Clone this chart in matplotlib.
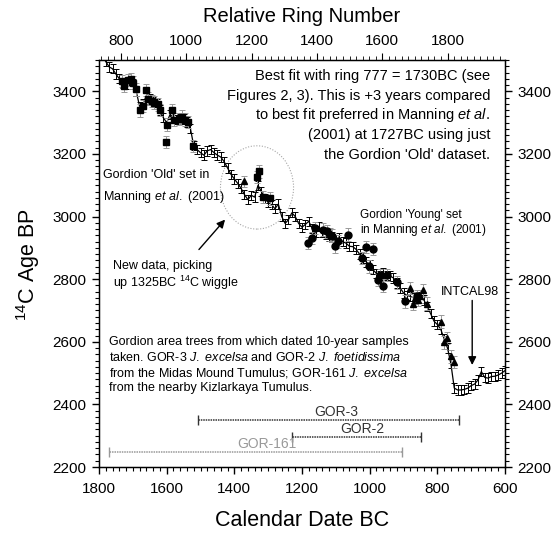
import numpy as np
import matplotlib
matplotlib.use("Agg")
import matplotlib.pyplot as plt
from matplotlib.patches import Ellipse
from matplotlib.ticker import MultipleLocator

plt.rcParams['font.family'] = ['Liberation Sans', 'DejaVu Sans']
plt.rcParams['mathtext.fontset'] = 'custom'
plt.rcParams['mathtext.rm'] = 'Liberation Sans'
plt.rcParams['mathtext.it'] = 'Liberation Sans:italic'

# INTCAL98 curve (calendar year BC, 14C age BP)
cal_years = [1790, 1780, 1770, 1760, 1750, 1740, 1730, 1720, 1710, 1700,
             1690, 1680, 1670, 1660, 1650, 1640, 1630, 1620, 1610, 1600,
             1590, 1580, 1570, 1560, 1550, 1540, 1530, 1520, 1510, 1500,
             1490, 1480, 1470, 1460, 1450, 1440, 1430, 1420, 1410, 1400,
             1390, 1380, 1370, 1360, 1350, 1340, 1330, 1320, 1310, 1300,
             1290, 1280, 1270, 1260, 1250, 1240, 1230, 1220, 1210, 1200,
             1190, 1180, 1170, 1160, 1150, 1140, 1130, 1120, 1110, 1100,
             1090, 1080, 1070, 1060, 1050, 1040, 1030, 1020, 1010, 1000,
             990, 980, 970, 960, 950, 940, 930, 920, 910, 900,
             890, 880, 870, 860, 850, 840, 830, 820, 810, 800,
             790, 780, 770, 760, 750, 740, 730, 720, 710, 700,
             690, 680, 670, 660, 650, 640, 630, 620, 610, 600]
intcal = [3515, 3495, 3478, 3472, 3455, 3440, 3425, 3422, 3432, 3424,
          3400, 3352, 3360, 3386, 3375, 3366, 3360, 3340, 3316, 3300,
          3326, 3316, 3310, 3314, 3312, 3302, 3282, 3226, 3214, 3204,
          3196, 3210, 3214, 3204, 3196, 3190, 3175, 3155, 3135, 3120,
          3106, 3090, 3070, 3054, 3068, 3062, 3100, 3080, 3058, 3045,
          3038, 3025, 3040, 3000, 2978, 2990, 3012, 3000, 2978, 2966,
          2975, 2985, 2962, 2950, 2968, 2950, 2942, 2938, 2935, 2925,
          2932, 2920, 2915, 2905, 2904, 2895, 2880, 2868, 2855, 2845,
          2830, 2818, 2812, 2820, 2812, 2810, 2804, 2788, 2772, 2756,
          2748, 2745, 2740, 2745, 2740, 2734, 2713, 2690, 2666, 2655,
          2640, 2610, 2580, 2530, 2452, 2446, 2446, 2448, 2452, 2460,
          2465, 2478, 2505, 2486, 2484, 2489, 2490, 2494, 2500, 2508]

# Gordion 'Old' set (squares)
old_years = [1733, 1725, 1713, 1705, 1699, 1691, 1679, 1671, 1661, 1654,
             1644, 1636, 1627, 1620, 1602, 1598, 1585, 1577, 1565, 1556,
             1546, 1536, 1521]
old_c14 = [3433, 3417, 3436, 3438, 3428, 3406, 3339, 3353, 3404, 3377,
           3369, 3364, 3358, 3340, 3238, 3294, 3339, 3310, 3312, 3319,
           3310, 3302, 3225]

# new data around the 1325BC wiggle
new_sq_years = [1334, 1326, 1314, 1296]
new_sq_c14 = [3127, 3144, 3063, 3058]
new_tri_years = [1372]
new_tri_c14 = [3113]

# Gordion 'Young' set (circles and triangles)
young_years = [1181, 1171, 1161, 1137, 1127, 1117, 1112, 1102, 1093, 1063,
               1023, 1011, 991, 1001, 974, 969, 960, 950, 920, 897, 861]
young_c14 = [2916, 2932, 2964, 2958, 2953, 2942, 2939, 2905, 2921, 2942,
             2868, 2902, 2897, 2841, 2798, 2814, 2779, 2814, 2790, 2729, 2745]
tri_years = [881, 871, 866, 856, 851, 841, 831, 790, 781, 771, 759, 752]
tri_c14 = [2772, 2722, 2740, 2734, 2745, 2765, 2722, 2664, 2598, 2612, 2553, 2535]

# tree ring ranges (start BC, end BC, level)
gor_names = ['GOR-3', 'GOR-2', 'GOR-161']
gor_start = [1507, 1230, 1770]
gor_end = [736, 848, 904]
gor_level = [2350, 2296, 2248]
gor_label_x = [1098, 1022, 1303]
gor_colors = ['0.2', '0.2', '0.6']

ring_lim = (733, 1976)

fig = plt.figure(figsize=(5.54, 5.33), dpi=100)
ax = fig.add_axes([0.1787, 0.1238, 0.7329, 0.7636])

ax.errorbar(cal_years, intcal, yerr=15, color='black', lw=0.9, elinewidth=0.7,
            capsize=2.5, capthick=0.7, zorder=3)

pts = dict(color='black', ecolor='0.6', elinewidth=0.7, capsize=2.5, capthick=0.7, zorder=4)
ax.errorbar(old_years, old_c14, yerr=20, fmt='s', ms=4.3, **pts)
ax.errorbar(new_sq_years, new_sq_c14, yerr=20, fmt='s', ms=4.3, **pts)
ax.errorbar(new_tri_years, new_tri_c14, yerr=18, fmt='^', ms=5, **pts)
ax.errorbar(young_years, young_c14, yerr=20, fmt='o', ms=5, **pts)
ax.errorbar(tri_years, tri_c14, yerr=20, fmt='^', ms=5, **pts)

for name, s, e, lev, lx, col in zip(gor_names, gor_start, gor_end, gor_level,
                                    gor_label_x, gor_colors):
    eb = ax.errorbar([(s + e) / 2], [lev], xerr=[(s - e) / 2], fmt='none', ecolor=col,
                     elinewidth=1.1, capsize=3.5, capthick=1.0)
    eb[2][0].set_linestyle((0, (1, 0.6)))
    ax.text(lx, lev + 27, name, fontsize=10, color=col, ha='center', va='center')

ax.add_patch(Ellipse((1333, 3093), 216, 266, fill=False, ec='0.65',
                     ls=(0, (1, 1.5)), lw=0.8))

ax.set_xlim(1800, 600)
ax.set_ylim(2200, 3500)
ax.xaxis.set_major_locator(MultipleLocator(200))
ax.xaxis.set_minor_locator(MultipleLocator(20))
ax.yaxis.set_major_locator(MultipleLocator(200))
ax.yaxis.set_minor_locator(MultipleLocator(20))
ax.tick_params(axis='both', which='major', labelsize=11, length=5, width=1)
ax.tick_params(axis='both', which='minor', length=3, width=0.8)
ax.tick_params(axis='x', direction='out', pad=6)
ax.tick_params(axis='y', which='both', direction='out', left=True, right=True,
               labelright=True, pad=4)
for sp in ax.spines.values():
    sp.set_linewidth(1.0)

ax2 = ax.twiny()
ax2.set_xlim(*ring_lim)
ax2.xaxis.set_major_locator(MultipleLocator(200))
ax2.xaxis.set_minor_locator(MultipleLocator(20))
ax2.tick_params(axis='x', which='major', labelsize=11, length=5, direction='out', pad=4)
ax2.tick_params(axis='x', which='minor', length=3, direction='out')

fig.text(302 / 554, 1 - 17 / 533, 'Relative Ring Number', fontsize=14.5,
         ha='center', va='center')
fig.text(302 / 554, 1 - 520 / 533, 'Calendar Date BC', fontsize=15.5,
         ha='center', va='center')
fig.text(28 / 554, 1 - 265 / 533, '$^{14}$C Age BP', fontsize=15.5,
         rotation=90, ha='center', va='center')

best_lines = ['Best fit with ring 777 = 1730BC (see',
              'Figures 2, 3). This is +3 years compared',
              r'to best fit preferred in Manning $\mathit{et\ al.}$',
              '(2001) at 1727BC using just',
              "the Gordion 'Old' dataset."]
best_y = [3448, 3384, 3323, 3259, 3198]
for t, yv in zip(best_lines, best_y):
    ax.text(644, yv, t, fontsize=10.5, ha='right', va='center')

ax.text(1788, 3134, "Gordion 'Old' set in", fontsize=9, ha='left', va='center')
ax.text(1788, 3061, r'Manning $\mathit{et\ al.}$ (2001)', fontsize=9, ha='left', va='center')
ax.text(1028, 3006, "Gordion 'Young' set", fontsize=8.5, ha='left', va='center')
ax.text(1028, 2958, r'in Manning $\mathit{et\ al.}$ (2001)', fontsize=8.5, ha='left', va='center')
ax.text(1759, 2843, 'New data, picking', fontsize=9, ha='left', va='center')
ax.text(1759, 2789, 'up 1325BC $^{14}$C wiggle', fontsize=9, ha='left', va='center')

tree_lines = ['Gordion area trees from which dated 10-year samples',
              r'taken. GOR-3 $\mathit{J.\ excelsa}$ and GOR-2 $\mathit{J.\ foetidissima}$',
              r'from the Midas Mound Tumulus; GOR-161 $\mathit{J.\ excelsa}$',
              'from the nearby Kizlarkaya Tumulus.']
tree_y = [2600, 2549, 2501, 2453]
for t, yv in zip(tree_lines, tree_y):
    ax.text(1770, yv, t, fontsize=9, ha='left', va='center')

ax.annotate('', xy=(1422, 2997), xytext=(1510, 2888),
            arrowprops=dict(arrowstyle='-|>', color='black', lw=1.0, mutation_scale=12))
ax.text(703, 2760, 'INTCAL98', fontsize=9, ha='center', va='center')
ax.annotate('', xy=(697, 2517), xytext=(697, 2741),
            arrowprops=dict(arrowstyle='-|>', color='black', lw=1.0, mutation_scale=12))

fig.savefig('out.png', dpi=100)
